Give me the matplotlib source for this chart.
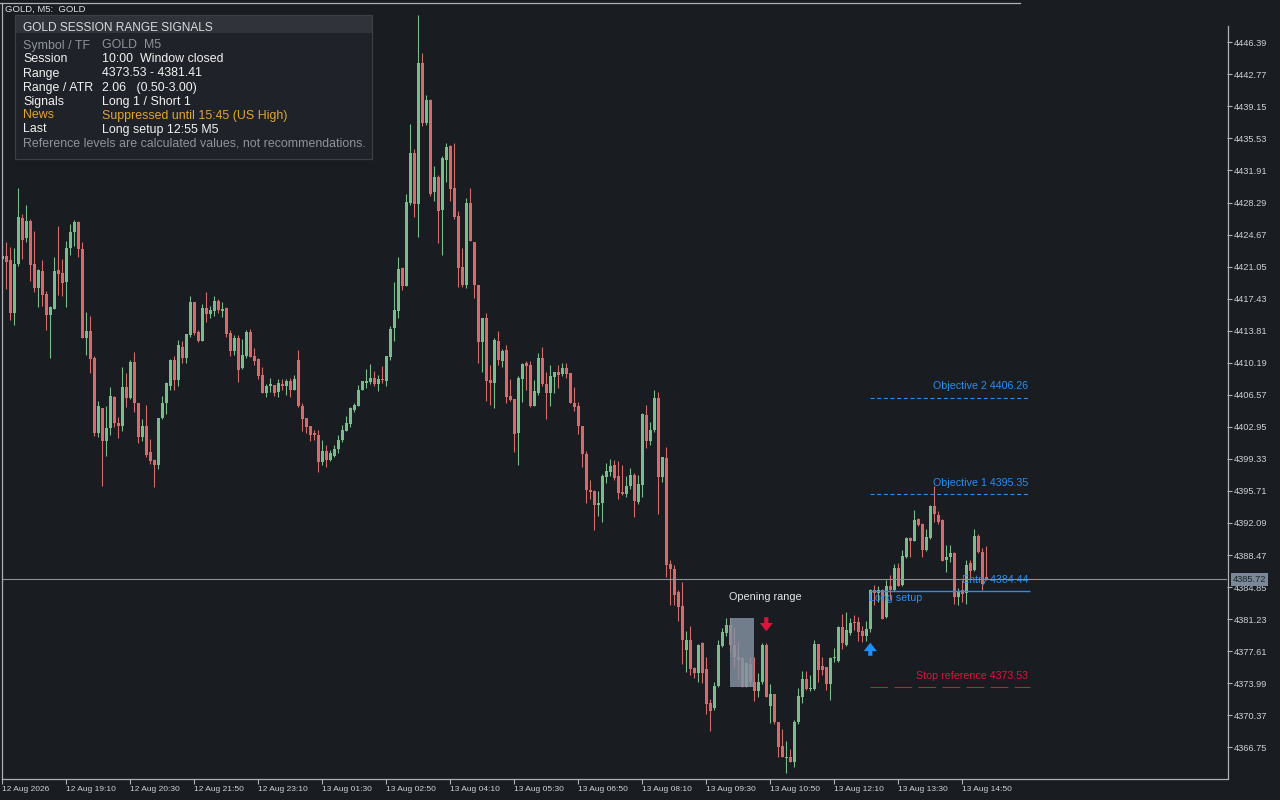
import matplotlib
matplotlib.use("Agg")
import matplotlib.pyplot as plt
import numpy as np
from matplotlib.patches import Rectangle, FancyArrowPatch
from matplotlib.lines import Line2D

plt.rcParams['font.family'] = ['Liberation Sans', 'DejaVu Sans']
plt.rcParams['lines.scale_dashes'] = False

# GOLD M5 bars (index 0 = 12 Aug 17:50)
opens = [
    4421.9, 4422.3, 4421.8, 4415.8, 4421.3, 4426.5, 4424.3, 4426.2, 4421.3, 4418.6,
    4420.6, 4418.0, 4415.6, 4416.3, 4420.7, 4420.3, 4419.3, 4423.2, 4425.0, 4426.1,
    4423.0, 4413.0, 4413.8, 4410.7, 4402.2, 4405.1, 4401.3, 4402.8, 4406.3, 4403.4,
    4403.0, 4407.5, 4406.2, 4410.3, 4405.6, 4401.8, 4403.0, 4400.1, 4399.2, 4398.6,
    4403.9, 4405.6, 4407.6, 4410.5, 4408.2, 4412.0, 4410.7, 4413.3, 4417.1, 4413.7,
    4412.7, 4416.4, 4415.7, 4416.0, 4417.2, 4416.0, 4416.4, 4413.5, 4411.5, 4413.0,
    4409.6, 4411.0, 4413.7, 4411.0, 4410.6, 4408.8, 4406.8, 4407.6, 4407.7, 4406.9,
    4407.8, 4407.6, 4408.1, 4407.1, 4410.5, 4405.3, 4403.9, 4403.0, 4402.3, 4402.0,
    4399.0, 4400.2, 4399.2, 4399.7, 4400.5, 4401.5, 4402.5, 4403.3, 4404.9, 4405.3,
    4407.1, 4407.9, 4408.0, 4408.5, 4407.8, 4408.3, 4408.1, 4410.8, 4414.1, 4416.0,
    4420.9, 4418.9, 4428.2, 4433.9, 4428.1, 4444.0, 4437.3, 4439.9, 4429.5, 4431.2,
    4427.4, 4433.1, 4434.7, 4429.9, 4426.8, 4421.0, 4419.0, 4428.2, 4423.8, 4419.0,
    4412.5, 4415.2, 4408.2, 4407.9, 4412.7, 4410.4, 4411.6, 4406.4, 4406.1, 4402.2,
    4408.3, 4410.2, 4409.9, 4405.3, 4406.8, 4410.7, 4407.8, 4406.8, 4408.6, 4409.2,
    4408.9, 4409.6, 4409.0, 4405.7, 4405.3, 4403.1, 4399.9, 4395.8, 4395.7, 4394.1,
    4394.4, 4397.3, 4397.9, 4398.6, 4397.4, 4395.6, 4395.4, 4396.3, 4397.5, 4394.5,
    4396.4, 4404.3, 4401.4, 4402.6, 4406.2, 4397.3, 4399.4, 4387.5, 4386.9, 4384.3,
    4382.7, 4377.7, 4378.9, 4375.7, 4375.1, 4378.5, 4375.6, 4371.7, 4371.2, 4373.7,
    4378.2, 4379.7, 4380.6, 4378.3, 4377.0, 4376.8, 4373.6, 4376.2, 4374.1, 4373.1,
    4374.1, 4378.3, 4371.4, 4372.8, 4369.6, 4366.9, 4365.5, 4365.6, 4365.1, 4369.6,
    4372.4, 4374.5, 4373.3, 4373.3, 4378.4, 4375.9, 4375.8, 4373.9, 4376.8, 4376.5,
    4380.3, 4378.3, 4379.7, 4380.9, 4380.9, 4379.9, 4379.3, 4380.1, 4384.5, 4384.2,
    4384.5, 4381.5, 4385.0, 4384.5, 4387.0, 4385.1, 4388.2, 4390.4, 4390.1, 4392.5,
    4392.0, 4389.0, 4390.4, 4394.0, 4393.0, 4392.4, 4387.9, 4388.2, 4388.7, 4383.7,
    4384.5, 4384.2, 4387.6, 4386.8, 4390.6, 4388.8, 4386.0,
]
highs = [
    4422.4, 4423.8, 4423.3, 4423.1, 4429.9, 4427.0, 4428.0, 4426.4, 4425.1, 4420.8,
    4421.8, 4418.3, 4416.6, 4422.1, 4425.6, 4421.9, 4423.9, 4425.9, 4426.3, 4426.2,
    4423.8, 4415.9, 4415.5, 4411.0, 4405.9, 4405.1, 4405.3, 4407.4, 4406.4, 4404.1,
    4409.7, 4409.0, 4410.5, 4411.4, 4405.6, 4403.8, 4405.4, 4401.6, 4399.3, 4403.9,
    4406.4, 4408.0, 4410.6, 4410.9, 4412.8, 4412.7, 4413.4, 4417.7, 4417.1, 4413.9,
    4416.8, 4418.2, 4416.6, 4417.7, 4417.4, 4417.1, 4416.5, 4413.9, 4413.3, 4413.3,
    4412.9, 4413.9, 4414.0, 4411.9, 4410.7, 4409.7, 4407.8, 4408.5, 4407.7, 4408.4,
    4408.3, 4408.4, 4408.5, 4408.8, 4411.6, 4405.6, 4403.9, 4403.1, 4402.6, 4402.6,
    4401.5, 4400.9, 4400.3, 4400.9, 4402.0, 4403.2, 4404.2, 4405.2, 4405.7, 4407.7,
    4408.1, 4409.5, 4410.1, 4409.3, 4408.8, 4409.8, 4410.9, 4414.3, 4419.3, 4422.1,
    4421.0, 4429.2, 4437.2, 4434.3, 4449.5, 4445.2, 4440.4, 4440.0, 4432.4, 4431.4,
    4433.6, 4435.0, 4434.8, 4435.0, 4427.3, 4423.2, 4428.8, 4429.9, 4423.8, 4419.0,
    4415.3, 4415.8, 4409.9, 4413.0, 4413.8, 4411.7, 4412.2, 4408.4, 4406.1, 4408.7,
    4410.2, 4410.4, 4410.4, 4408.2, 4411.3, 4412.0, 4409.2, 4409.9, 4409.2, 4409.9,
    4410.2, 4410.2, 4409.0, 4407.5, 4405.8, 4403.1, 4400.2, 4397.0, 4395.8, 4395.7,
    4397.6, 4398.9, 4399.3, 4399.2, 4399.1, 4398.6, 4397.4, 4398.3, 4397.7, 4397.5,
    4404.5, 4405.4, 4403.5, 4407.1, 4406.9, 4399.6, 4400.7, 4387.9, 4387.4, 4384.5,
    4385.4, 4379.9, 4380.5, 4375.8, 4378.4, 4378.6, 4376.9, 4372.2, 4374.1, 4378.9,
    4380.2, 4381.4, 4381.4, 4380.3, 4378.6, 4377.0, 4376.4, 4377.0, 4376.9, 4375.1,
    4378.5, 4378.5, 4373.9, 4372.8, 4369.6, 4368.8, 4367.5, 4366.6, 4369.8, 4373.4,
    4375.4, 4375.4, 4374.9, 4378.9, 4378.4, 4376.9, 4375.8, 4377.0, 4378.0, 4380.5,
    4381.8, 4382.0, 4381.4, 4381.7, 4381.5, 4380.5, 4381.0, 4384.6, 4385.1, 4385.0,
    4384.6, 4385.7, 4386.2, 4387.5, 4387.6, 4389.0, 4390.5, 4390.5, 4393.6, 4392.7,
    4392.1, 4391.4, 4394.1, 4396.3, 4393.5, 4392.5, 4389.6, 4389.6, 4388.8, 4384.7,
    4385.6, 4387.9, 4387.9, 4391.4, 4390.8, 4389.3, 4389.5,
]
lows = [
    4421.8, 4418.5, 4415.0, 4414.5, 4421.1, 4421.9, 4423.8, 4419.4, 4418.2, 4416.5,
    4416.6, 4413.9, 4410.7, 4416.3, 4417.8, 4417.7, 4416.5, 4422.4, 4423.4, 4422.1,
    4413.0, 4411.1, 4409.0, 4401.9, 4401.8, 4396.3, 4399.7, 4402.0, 4402.9, 4401.7,
    4402.5, 4405.2, 4406.1, 4404.6, 4401.1, 4401.3, 4399.5, 4398.7, 4396.1, 4398.2,
    4403.8, 4404.4, 4407.1, 4407.1, 4407.6, 4410.2, 4410.2, 4413.1, 4413.3, 4412.5,
    4412.6, 4414.8, 4415.2, 4415.5, 4415.8, 4415.4, 4413.1, 4411.0, 4411.1, 4408.0,
    4409.5, 4410.7, 4410.8, 4409.9, 4408.4, 4406.8, 4406.3, 4406.9, 4406.4, 4406.3,
    4407.1, 4406.5, 4406.3, 4407.1, 4405.2, 4402.5, 4402.3, 4401.4, 4401.5, 4397.9,
    4398.6, 4398.4, 4399.1, 4399.5, 4400.0, 4401.2, 4402.5, 4402.9, 4404.6, 4405.3,
    4407.1, 4407.3, 4407.8, 4407.6, 4407.0, 4407.9, 4407.6, 4410.5, 4412.6, 4415.2,
    4418.4, 4418.9, 4428.0, 4426.7, 4424.4, 4436.9, 4437.0, 4429.0, 4428.5, 4423.7,
    4422.4, 4430.6, 4428.5, 4426.4, 4418.7, 4418.7, 4418.6, 4423.9, 4417.5, 4410.2,
    4409.1, 4405.9, 4405.4, 4405.1, 4409.9, 4409.7, 4405.6, 4405.9, 4400.1, 4398.6,
    4405.8, 4407.1, 4405.2, 4405.3, 4406.6, 4407.6, 4403.8, 4405.3, 4406.8, 4407.3,
    4408.7, 4408.5, 4405.6, 4404.7, 4402.1, 4398.4, 4394.4, 4394.8, 4391.3, 4392.9,
    4392.2, 4396.6, 4397.4, 4397.0, 4394.8, 4395.3, 4395.0, 4395.9, 4392.8, 4394.2,
    4395.0, 4400.6, 4400.9, 4402.4, 4393.1, 4396.7, 4386.0, 4382.8, 4382.8, 4381.0,
    4376.2, 4375.3, 4374.9, 4374.6, 4374.1, 4374.0, 4370.5, 4368.6, 4371.0, 4373.6,
    4378.1, 4379.3, 4377.5, 4375.8, 4374.5, 4373.53, 4373.6, 4373.7, 4372.0, 4372.4,
    4373.9, 4372.4, 4369.5, 4369.4, 4365.7, 4365.6, 4363.8, 4365.1, 4364.5, 4369.4,
    4371.7, 4373.2, 4373.1, 4373.2, 4374.1, 4374.9, 4373.2, 4372.1, 4376.4, 4376.4,
    4377.8, 4378.2, 4379.4, 4380.0, 4378.8, 4378.6, 4378.8, 4379.8, 4382.8, 4383.2,
    4381.2, 4381.4, 4383.5, 4384.4, 4385.0, 4385.0, 4388.1, 4388.2, 4390.1, 4391.8,
    4388.2, 4388.9, 4390.3, 4392.2, 4392.0, 4387.8, 4386.5, 4387.7, 4382.9, 4382.8,
    4383.2, 4382.9, 4385.8, 4386.7, 4388.7, 4384.5, 4385.6,
]
closes = [
    4422.3, 4421.6, 4415.8, 4421.4, 4426.7, 4424.1, 4426.2, 4421.2, 4418.6, 4420.7,
    4417.8, 4415.6, 4416.5, 4420.6, 4420.2, 4419.2, 4423.2, 4425.0, 4426.1, 4423.0,
    4413.0, 4413.8, 4410.6, 4402.2, 4405.3, 4401.3, 4402.8, 4406.4, 4403.4, 4403.0,
    4407.5, 4406.2, 4410.3, 4405.6, 4401.8, 4403.0, 4399.8, 4399.1, 4398.6, 4403.9,
    4405.6, 4407.9, 4410.5, 4408.2, 4412.2, 4410.7, 4413.4, 4417.1, 4413.6, 4412.7,
    4416.4, 4415.7, 4416.1, 4417.2, 4416.1, 4416.3, 4413.4, 4411.5, 4413.0, 4409.4,
    4411.1, 4413.7, 4410.8, 4410.4, 4408.7, 4406.8, 4407.6, 4407.8, 4406.8, 4407.9,
    4407.6, 4408.1, 4407.1, 4408.3, 4405.3, 4403.8, 4402.9, 4402.0, 4402.0, 4399.0,
    4400.2, 4399.2, 4400.0, 4400.5, 4401.5, 4402.6, 4403.4, 4405.1, 4405.4, 4407.1,
    4408.1, 4408.1, 4408.5, 4407.8, 4408.3, 4408.2, 4410.9, 4414.0, 4416.2, 4420.8,
    4418.9, 4428.3, 4433.9, 4428.1, 4444.1, 4437.3, 4439.9, 4429.3, 4431.2, 4427.3,
    4433.3, 4434.6, 4429.8, 4426.7, 4420.9, 4419.0, 4428.2, 4424.0, 4419.0, 4412.5,
    4415.3, 4408.1, 4407.9, 4412.8, 4410.5, 4411.5, 4406.3, 4406.0, 4402.1, 4408.5,
    4410.1, 4409.8, 4405.3, 4407.0, 4410.7, 4407.8, 4406.8, 4408.7, 4409.2, 4408.8,
    4409.6, 4408.9, 4405.6, 4405.2, 4403.1, 4399.9, 4395.8, 4395.6, 4394.1, 4394.4,
    4397.4, 4398.0, 4398.5, 4397.2, 4395.5, 4395.4, 4396.3, 4397.5, 4394.6, 4396.5,
    4404.4, 4401.4, 4402.6, 4406.2, 4397.3, 4399.6, 4387.3, 4386.9, 4384.0, 4382.6,
    4378.9, 4378.9, 4375.6, 4375.1, 4378.3, 4375.1, 4371.6, 4370.9, 4373.7, 4378.3,
    4379.8, 4380.6, 4378.3, 4377.0, 4376.6, 4373.6, 4376.3, 4374.1, 4373.1, 4374.1,
    4378.3, 4372.4, 4372.8, 4369.6, 4366.8, 4365.6, 4365.7, 4365.1, 4369.6, 4372.5,
    4374.5, 4373.3, 4373.4, 4378.4, 4375.5, 4375.5, 4373.9, 4376.8, 4376.9, 4380.3,
    4378.5, 4380.0, 4380.8, 4380.8, 4379.8, 4379.3, 4380.1, 4384.5, 4384.2, 4384.5,
    4381.3, 4385.0, 4384.5, 4387.0, 4385.0, 4388.4, 4390.4, 4390.1, 4392.4, 4391.9,
    4389.0, 4390.5, 4394.0, 4393.1, 4392.2, 4387.8, 4388.3, 4388.7, 4383.7, 4384.3,
    4384.1, 4387.4, 4386.7, 4390.6, 4388.8, 4385.2, 4385.72,
]

x_tick_labels = ["12 Aug 2026", "12 Aug 19:10", "12 Aug 20:30", "12 Aug 21:50",
                 "12 Aug 23:10", "13 Aug 01:30", "13 Aug 02:50", "13 Aug 04:10",
                 "13 Aug 05:30", "13 Aug 06:50", "13 Aug 08:10", "13 Aug 09:30",
                 "13 Aug 10:50", "13 Aug 12:10", "13 Aug 13:30", "13 Aug 14:50"]
bars_per_label = 16
y_tick_values = [4446.39, 4442.77, 4439.15, 4435.53, 4431.91, 4428.29, 4424.67,
                 4421.05, 4417.43, 4413.81, 4410.19, 4406.57, 4402.95, 4399.33,
                 4395.71, 4392.09, 4388.47, 4384.85, 4381.23, 4377.61, 4373.99,
                 4370.37, 4366.75]

# session / signal levels
range_start, range_end = 182, 188
range_high, range_low = 4381.41, 4373.53
short_bar, long_bar = 191, 217
entry, stop_ref = 4384.44, 4373.53
objective_1, objective_2 = 4395.35, 4406.26
last_price = 4385.72
level_bars = 40

panel_labels = ["Symbol / TF", "Session", "Range", "Range / ATR", "Signals", "News", "Last"]
panel_values = ["GOLD  M5", "10:00  Window closed", "4373.53 - 4381.41",
                "2.06   (0.50-3.00)", "Long 1 / Short 1",
                "Suppressed until 15:45 (US High)", "Long setup 12:55 M5"]
panel_note = "Reference levels are calculated values, not recommendations."

BG = '#191c21'
UP = '#79bd8b'
DOWN = '#d86a6a'
BLUE = '#2a8df0'
CRIMSON = '#dc143c'
FRAME = '#aeb3b8'
TXT = '#cdd0d4'

W, H = 1280, 800
fig = plt.figure(figsize=(12.8, 8), dpi=100, facecolor=BG)
ax = fig.add_axes([2 / W, 21 / H, 1225 / W, 776 / H])
ax.set_facecolor(BG)
ax.set_xlim(-0.08, 306.18)
ax.set_ylim(4363.17, 4450.83)
ppx = (4450.83 - 4363.17) / 776  # price per pixel

o = np.array(opens)
h = np.array(highs)
l = np.array(lows)
c = np.array(closes)
idx = np.arange(len(c))
cols = np.where(c >= o, UP, DOWN)

ax.vlines(idx, l, h, colors=cols, linewidth=0.8, zorder=2)
ax.bar(idx, np.maximum(np.abs(c - o), 0.12), bottom=np.minimum(o, c),
       width=0.78, color=cols, linewidth=0, zorder=3)

# opening range box
ax.add_patch(Rectangle((range_start, range_low), range_end - range_start,
                       range_high - range_low, facecolor='#8693a3', alpha=0.82,
                       edgecolor='none', zorder=4))
ax.annotate("Opening range", xy=(short_bar - 0.2, range_high), xytext=(0, 15),
            textcoords='offset points', ha='center', va='center',
            fontsize=7.8, color='#e4e6e8', zorder=6)

# signal arrows
arrow_style = "simple,head_length=0.6,head_width=0.95,tail_width=0.3"
tip = h[short_bar] + 12 * ppx
ax.add_patch(FancyArrowPatch((short_bar, tip + 14 * ppx), (short_bar, tip),
                             arrowstyle=arrow_style, mutation_scale=10,
                             shrinkA=0, shrinkB=0,
                             color=CRIMSON, lw=0, zorder=6))
tip = l[long_bar] - 11 * ppx
ax.add_patch(FancyArrowPatch((long_bar, tip - 13 * ppx), (long_bar, tip),
                             arrowstyle=arrow_style, mutation_scale=10,
                             shrinkA=0, shrinkB=0,
                             color='#1e8fff', lw=0, zorder=6))

# level lines
x_end = long_bar + level_bars
ax.hlines(objective_2, long_bar, x_end, colors=BLUE, lw=0.8,
          linestyles=[(0, (2.9, 1.9))], zorder=5)
ax.hlines(objective_1, long_bar, x_end, colors=BLUE, lw=0.8,
          linestyles=[(0, (2.9, 1.9))], zorder=5)
ax.hlines(entry, long_bar, x_end, colors=BLUE, lw=1.0, zorder=5)
ax.hlines(stop_ref, long_bar, x_end, colors=CRIMSON, lw=0.8,
          linestyles=[(0, (12.7, 4.6))], zorder=5)

for lvl, txt, col in [(objective_2, f"Objective 2 {objective_2:.2f}", BLUE),
                      (objective_1, f"Objective 1 {objective_1:.2f}", BLUE),
                      (entry, f"Entry {entry:.2f}", BLUE),
                      (stop_ref, f"Stop reference {stop_ref:.2f}", CRIMSON)]:
    ax.annotate(txt, xy=(x_end - 0.5, lvl), xytext=(0, 8), textcoords='offset points',
                ha='right', va='center', fontsize=7.7, color=col, zorder=6)
ax.annotate("Long setup", xy=(long_bar - 0.3, entry), xytext=(0, -5),
            textcoords='offset points', ha='left', va='center',
            fontsize=7.7, color=BLUE, zorder=6)

# last price line
ax.axhline(last_price, color='#8b9299', lw=0.8, zorder=7)

# axes / ticks
for s in ['top', 'right', 'left']:
    ax.spines[s].set_visible(False)
ax.spines['bottom'].set_color(FRAME)
ax.spines['bottom'].set_linewidth(0.9)
ax.yaxis.tick_right()
ax.set_yticks(y_tick_values)
ax.set_yticklabels([f"{v:.2f}" for v in y_tick_values])
ax.set_xticks(np.arange(len(x_tick_labels)) * bars_per_label)
ax.set_xticklabels(x_tick_labels, ha='left')
ax.tick_params(axis='both', colors=FRAME, labelcolor=TXT,
               length=3.6, width=0.8, direction='out')
ax.tick_params(axis='x', pad=1.5, labelsize=6.0)
ax.tick_params(axis='y', pad=1, labelsize=6.7)

ax.annotate(f"{last_price:.2f}", xy=(1.0, last_price), xycoords=ax.get_yaxis_transform(),
            xytext=(4.2, 0), textcoords='offset points',
            ha='left', va='center', fontsize=6.7, color='#1f242a', zorder=8,
            annotation_clip=False,
            bbox=dict(boxstyle='square,pad=0.2', facecolor='#7a8898', edgecolor='none'))


def fx(x):
    return x / W


def fy(y):
    return 1 - y / H


# frame lines drawn in screen pixels
fig.add_artist(Line2D([fx(0), fx(1020)], [fy(2.5), fy(2.5)], color=FRAME, lw=0.9))
fig.add_artist(Line2D([fx(2), fx(2)], [fy(3), fy(779)], color=FRAME, lw=0.9))
fig.add_artist(Line2D([fx(1227.5), fx(1227.5)], [fy(26), fy(779)], color=FRAME, lw=0.9))
fig.text(fx(5), fy(9), "GOLD, M5:  GOLD", fontsize=6.8, color='#dfe1e3',
         ha='left', va='center')

# info panel
fig.add_artist(Rectangle((fx(15), fy(159)), fx(357), 144 / H, transform=fig.transFigure,
                         facecolor='#1f2228', edgecolor='#3b4047', lw=0.9))
fig.add_artist(Rectangle((fx(15.5), fy(33)), fx(356), 17.5 / H, transform=fig.transFigure,
                         facecolor='#30343a', edgecolor='none', lw=0))
fig.text(fx(23), fy(28), "GOLD SESSION RANGE SIGNALS", fontsize=8.6, color='#d9dbde',
         ha='left', va='center')
row_cols = ['#8e949b', '#f2f2f2', '#f2f2f2', '#f2f2f2', '#f2f2f2', '#e3a532', '#f2f2f2']
for i, (lab, val) in enumerate(zip(panel_labels, panel_values)):
    yy = 45.5 + 14 * i
    fig.text(fx(23), fy(yy), lab, fontsize=8.9, color=row_cols[i], ha='left', va='center')
    fig.text(fx(102), fy(yy), val, fontsize=8.9, color=row_cols[i], ha='left', va='center')
fig.text(fx(23), fy(143.5), panel_note, fontsize=8.9, color='#8e949b', ha='left', va='center')

fig.savefig("out.png", dpi=100, facecolor=BG)
